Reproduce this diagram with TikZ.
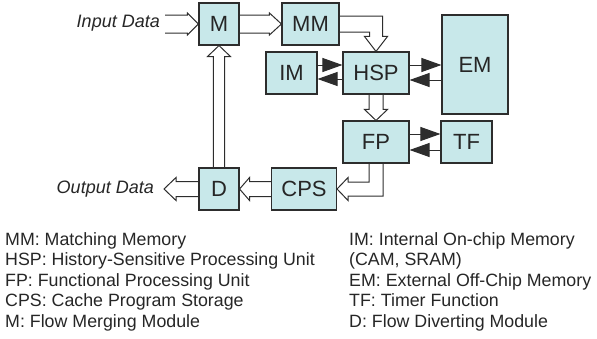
\documentclass[tikz,border=0pt]{standalone}
\usepackage{fontspec}
\setmainfont{Liberation Sans}
\usetikzlibrary{calc,arrows.meta}
\definecolor{boxfill}{RGB}{200,232,234}
\definecolor{edge}{RGB}{45,45,45}
\newcommand\hollowar[5]{%
  \draw[hol] let \p1=#1, \p2=#2,
    \n1={veclen(\x2-\x1,\y2-\y1)}, \n2={atan2(\y2-\y1,\x2-\x1)} in
    [shift={(\p1)}, rotate=\n2]
    (0pt,#3pt) -- ({\n1*1pt-#5pt},#3pt) -- ({\n1*1pt-#5pt},#4pt) -- ({\n1*1pt},0pt)
    -- ({\n1*1pt-#5pt},-#4pt) -- ({\n1*1pt-#5pt},-#3pt) -- (0pt,-#3pt);}
\begin{document}
\begin{tikzpicture}[x=1pt,y=-1pt,
  blk/.style={draw=edge, fill=boxfill, line width=1.1pt, inner sep=0pt,
    font=\fontsize{22}{24}\selectfont, text=black!85},
  hol/.style={draw=edge, line width=1pt, line join=miter},
  fa/.style={draw=edge, line width=1pt, -{Triangle[length=20pt,width=14pt]}},
  leg/.style={anchor=base west, font=\fontsize{17.8}{20}\selectfont, inner sep=0pt, text=black!85},
  io/.style={font=\itshape\fontsize{18}{20}\selectfont, inner sep=0pt, text=black!85}]
\useasboundingbox (0,0) rectangle (597,338);
\node[blk, minimum width=40pt, minimum height=42pt] (M) at (219,24) {M};
\node[blk, minimum width=57pt, minimum height=42pt] (MM) at (310.5,24) {MM};
\node[blk, minimum width=51pt, minimum height=42pt] (IM) at (291.5,73) {IM};
\node[blk, minimum width=66pt, minimum height=42pt] (HSP) at (376,73) {HSP};
\node[blk, minimum width=66pt, minimum height=99pt] (EM) at (475,64.5) {EM};
\node[blk, minimum width=66pt, minimum height=42pt] (FP) at (376,142) {FP};
\node[blk, minimum width=51pt, minimum height=42pt] (TF) at (466.5,142) {TF};
\node[blk, minimum width=65pt, minimum height=42pt] (CPS) at (304,189) {CPS};
\node[blk, minimum width=40pt, minimum height=42pt] (D) at (219,189) {D};
\node[io, anchor=east] (in) at (160,23) {Input Data};
\node[io, anchor=east] (out) at (154,189) {Output Data};
\coordinate (inS) at (165,24);
\coordinate (outE) at (164,189);
% hollow arrows
\hollowar{(inS)}{(M.west)}{9}{11}{11}
\hollowar{(M.east)}{(MM.west)}{9}{11}{12}
\hollowar{(HSP.south)}{(FP.north)}{7}{11.5}{11}
\hollowar{(CPS.west)}{(D.east)}{7.5}{11.5}{10}
\hollowar{(D.west)}{(outE)}{7.5}{11.5}{12}
\hollowar{(D.north)}{(M.south)}{5.7}{11.5}{11}
\draw[hol] ($(MM.east)+(0,-8)$) -| ($(HSP.north)+(6.5,-15)$) -- ++(5,0) -- (HSP.north)
  -- ($(HSP.north)+(-11.5,-15)$) -- ++(5,0) |- ($(MM.east)+(0,8)$);
\draw[hol] ($(FP.south)+(-7,0)$) |- ($(CPS.east)+(11,-7)$) -- ++(0,-4.5) -- (CPS.east)
  -- ($(CPS.east)+(11,11.5)$) -- ++(0,-4.5) -| ($(FP.south)+(7,0)$);
% filled arrows
\draw[fa] ($(IM.east)+(0,-8)$) -- ($(IM.east-|HSP.west)+(0,-8)$);
\draw[fa] ($(IM.east-|HSP.west)+(0,6)$) -- ($(IM.east)+(0,6)$);
\draw[fa] ($(HSP.east)+(0,-8)$) -- ($(HSP.east-|EM.west)+(0,-8)$);
\draw[fa] ($(HSP.east-|EM.west)+(0,7)$) -- ($(HSP.east)+(0,7)$);
\draw[fa] ($(FP.east)+(0,-8)$) -- ($(FP.east-|TF.west)+(0,-8)$);
\draw[fa] ($(FP.east-|TF.west)+(0,8)$) -- ($(FP.east)+(0,8)$);
% legend
\node[leg] (l1) at (5,245) {MM: Matching Memory};
\node[leg] (l2) at (5,265.5) {HSP: History-Sensitive Processing Unit};
\node[leg] (l3) at (5,286) {FP: Functional Processing Unit};
\node[leg] (l4) at (5,306.5) {CPS: Cache Program Storage};
\node[leg] (l5) at (5,327) {M: Flow Merging Module};
\node[leg] (r1) at (349,245) {IM: Internal On-chip Memory};
\node[leg] (r2) at (349,265.5) {(CAM, SRAM)};
\node[leg] (r3) at (349,286) {EM: External Off-Chip Memory};
\node[leg] (r4) at (349,306.5) {TF: Timer Function};
\node[leg] (r5) at (349,327) {D: Flow Diverting Module};
\end{tikzpicture}
\end{document}
